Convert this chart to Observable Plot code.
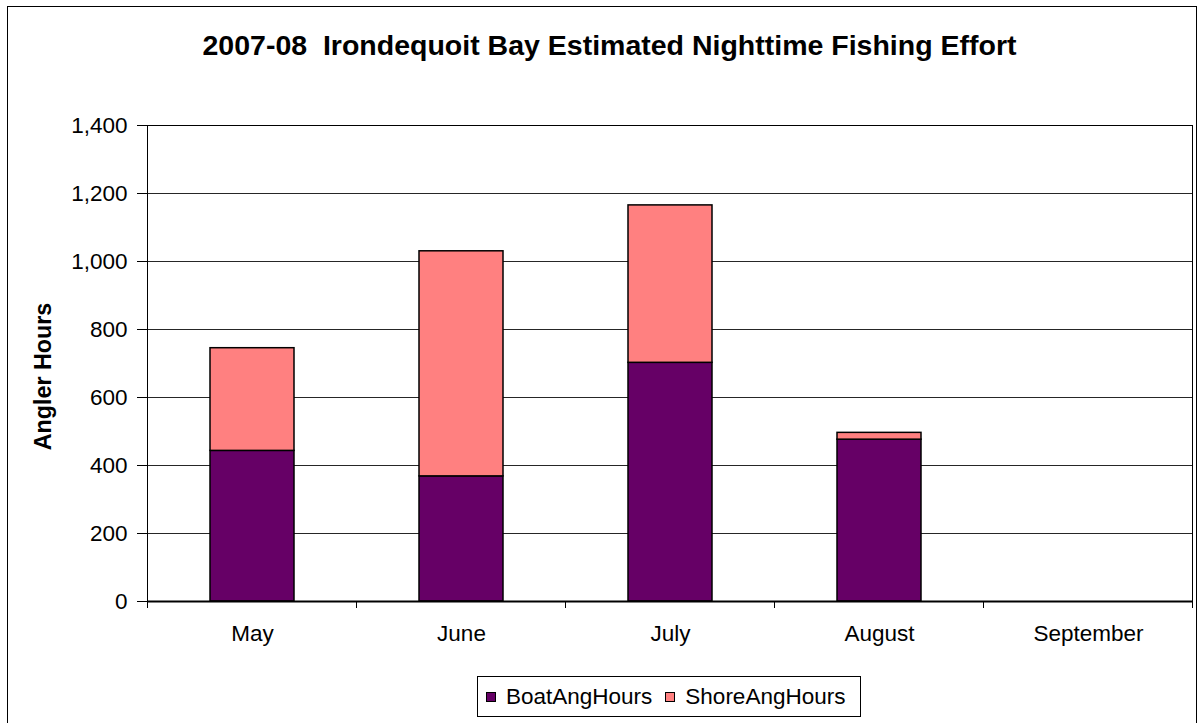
<!DOCTYPE html>
<html><head><meta charset="utf-8">
<script src="https://cdn.jsdelivr.net/npm/d3@7"></script>
<script src="https://cdn.jsdelivr.net/npm/@observablehq/plot@0.6"></script>
<style>
body{margin:0;background:#fff;}
#wrap{position:relative;width:1199px;height:723px;overflow:hidden;font-family:"Liberation Sans",Arial,sans-serif;color:#000;}
#border{position:absolute;left:7px;top:6px;width:1190px;height:740px;border:1.5px solid #000;box-sizing:border-box;}
#title{position:absolute;left:10px;width:1199px;top:31px;text-align:center;font-weight:bold;font-size:28.5px;line-height:28.5px;white-space:pre;}
#chart{position:absolute;left:0;top:0;}
#legend{position:absolute;left:477px;top:676px;width:384px;height:41px;border:1px solid #000;box-sizing:border-box;display:flex;align-items:center;font-size:22.5px;background:#fff;}
.sw{width:10px;height:10px;border:1px solid #000;box-sizing:border-box;flex:none;}
</style>
</head><body>
<div id="wrap">
  <div id="border"></div>
  <div id="chart"></div>
  <div id="title"></div>
  <div id="legend"></div>
</div>
<script>
const titleText = "2007-08  Irondequoit Bay Estimated Nighttime Fishing Effort";
const yLabel = "Angler Hours";
const months = ["May", "June", "July", "August", "September"];
const boatAngHours = [443, 368, 702, 476, 0];
const shoreAngHours = [302, 662, 463, 20, 0];
const seriesNames = ["BoatAngHours", "ShoreAngHours"];
const seriesColors = ["#660066", "#FF8080"];
const yTicks = [0, 200, 400, 600, 800, 1000, 1200, 1400];

const seriesValues = [boatAngHours, shoreAngHours];
const rows = [];
months.forEach((m, i) => {
  seriesNames.forEach((s, j) => rows.push({month: m, series: s, value: seriesValues[j][i]}));
});

document.getElementById("title").textContent = titleText;

const chart = Plot.plot({
  width: 1199,
  height: 723,
  marginLeft: 147,
  marginRight: 7,
  marginTop: 125,
  marginBottom: 122,
  style: {fontFamily: "'Liberation Sans', Arial, sans-serif", fontSize: "22.5px", color: "#000", background: "transparent", overflow: "visible"},
  x: {domain: months, paddingInner: 0.6, paddingOuter: 0.3, align: 0.5, label: null},
  y: {domain: [0, 1400], label: null},
  color: {domain: seriesNames, range: seriesColors},
  marks: [
    Plot.gridY(yTicks, {stroke: "#000", strokeOpacity: 0.85, strokeWidth: 1}),
    Plot.barY(rows, {x: "month", y: "value", fill: "series", stroke: "#000", strokeWidth: 1.5, filter: d => d.value > 0}),
    Plot.frame({stroke: "#000", strokeWidth: 1}),
    Plot.ruleY([0], {stroke: "#000", strokeWidth: 2}),
    Plot.axisY({ticks: yTicks, tickFormat: d3.format(","), tickSize: 10, tickPadding: 10, label: null}),
    Plot.axisX({tickSize: 0, tickPadding: 24, label: null}),
    Plot.text([yLabel], {frameAnchor: "left", textAnchor: "middle", lineAnchor: "middle", rotate: -90, dx: -103.5, dy: 13, fontWeight: "bold", fontSize: 23.3})
  ]
});

// category-boundary tick marks on the x axis (Excel style)
const xs = chart.scale("x");
const ys = chart.scale("y");
const off = (xs.step - xs.bandwidth) / 2;
const bounds = months.map(m => xs.apply(m) - off);
bounds.push(xs.apply(months[months.length - 1]) + xs.bandwidth + off);
const yb = ys.apply(0);
d3.select(chart).append("g")
  .selectAll("line").data(bounds).join("line")
  .attr("x1", d => d).attr("x2", d => d)
  .attr("y1", yb).attr("y2", yb + 7)
  .attr("stroke", "#000").attr("stroke-width", 1);

document.getElementById("chart").appendChild(chart);

const legend = d3.select("#legend");
seriesNames.forEach((s, i) => {
  legend.append("div").attr("class", "sw")
    .style("background", seriesColors[i])
    .style("margin-left", i === 0 ? "8px" : "13px");
  legend.append("span").text(s).style("margin-left", "10px");
});
</script>
</body></html>
